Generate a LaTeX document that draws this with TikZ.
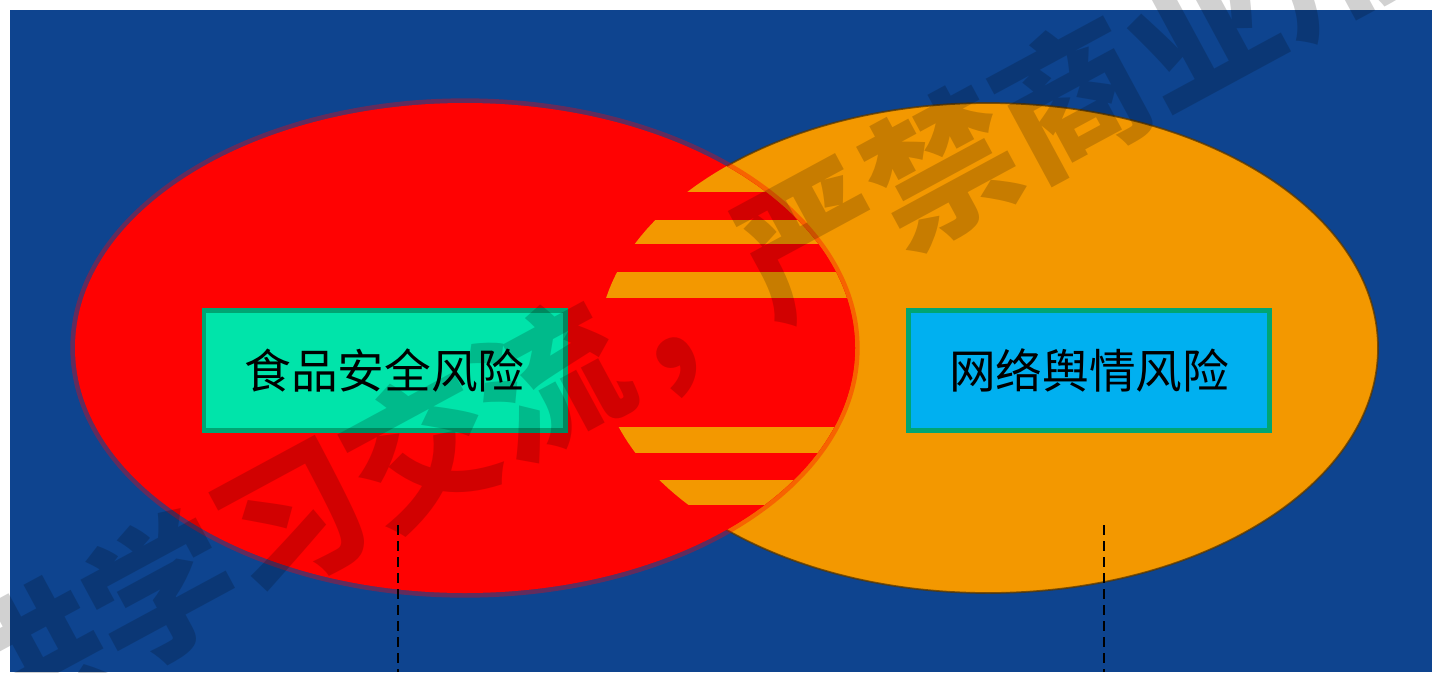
\documentclass[tikz,border=0pt]{standalone}
\usepackage{fontspec}
\newfontfamily\cjk{Noto Sans CJK SC}
\definecolor{bgblue}{RGB}{14,68,143}
\definecolor{myred}{RGB}{255,2,2}
\definecolor{myorange}{RGB}{243,152,0}
\definecolor{greenfill}{RGB}{0,228,170}
\definecolor{greenborder}{RGB}{0,165,115}
\definecolor{bluefill}{RGB}{0,176,240}
\tikzset{
  riskbox/.style={draw=greenborder, line width=3.5pt, minimum width=271pt, minimum height=90pt, inner sep=0pt, font=\cjk\fontsize{35}{35}\selectfont, text=black},
  dashline/.style={draw=black, line width=1.6pt, dash pattern=on 7.5pt off 4.5pt},
  watermark/.style={text=black, text opacity=0.18, font=\cjk\bfseries\fontsize{111}{111}\selectfont}
}
\begin{document}
\begin{tikzpicture}[x=0.75pt,y=-0.75pt]
\useasboundingbox (0,0) rectangle (1432,672);
\begin{scope}
\clip (0,0) rectangle (1432,672);
\fill[white] (0,0) rectangle (1432,672);
\fill[bgblue] (10,10) rectangle (1432,672);
% orange ellipse
\fill[myorange] (988,348) ellipse [x radius=390, y radius=245];
\draw[black!65!myorange, line width=1.3pt, opacity=0.75] (988,348) ellipse [x radius=390, y radius=245];
% red ellipse with soft edge
\draw[myred, opacity=0.35, line width=7pt] (465,348) ellipse [x radius=390, y radius=245];
\fill[myred] (465,348) ellipse [x radius=390, y radius=245];
% striped lens
\begin{scope}
\clip (465,348) ellipse [x radius=390, y radius=245];
\clip (988,348) ellipse [x radius=390, y radius=245];
\fill[myred] (500,90) rectangle (950,620);
\fill[myorange] (500,90) rectangle (950,192);
\fill[myorange] (500,220) rectangle (950,244);
\fill[myorange] (500,272) rectangle (950,298);
\fill[myorange] (500,427) rectangle (950,453);
\fill[myorange] (500,480) rectangle (950,505);
\end{scope}
% boxes
\node[riskbox, fill=greenfill] (food) at (384.5,370.5) {食品安全风险};
\node[riskbox, fill=bluefill] (net) at (1089,370.5) {网络舆情风险};
% dashed leaders
\coordinate (fa) at (398,525);
\coordinate (fb) at (398,672);
\coordinate (na) at (1104,525);
\coordinate (nb) at (1104,672);
\draw[dashline] (fa) -- (fb);
\draw[dashline] (na) -- (nb);
% watermark
\node[watermark, rotate=28.4] (wm) at (683,312) {仅供学习交流，严禁商业用途};
\end{scope}
\end{tikzpicture}
\end{document}
